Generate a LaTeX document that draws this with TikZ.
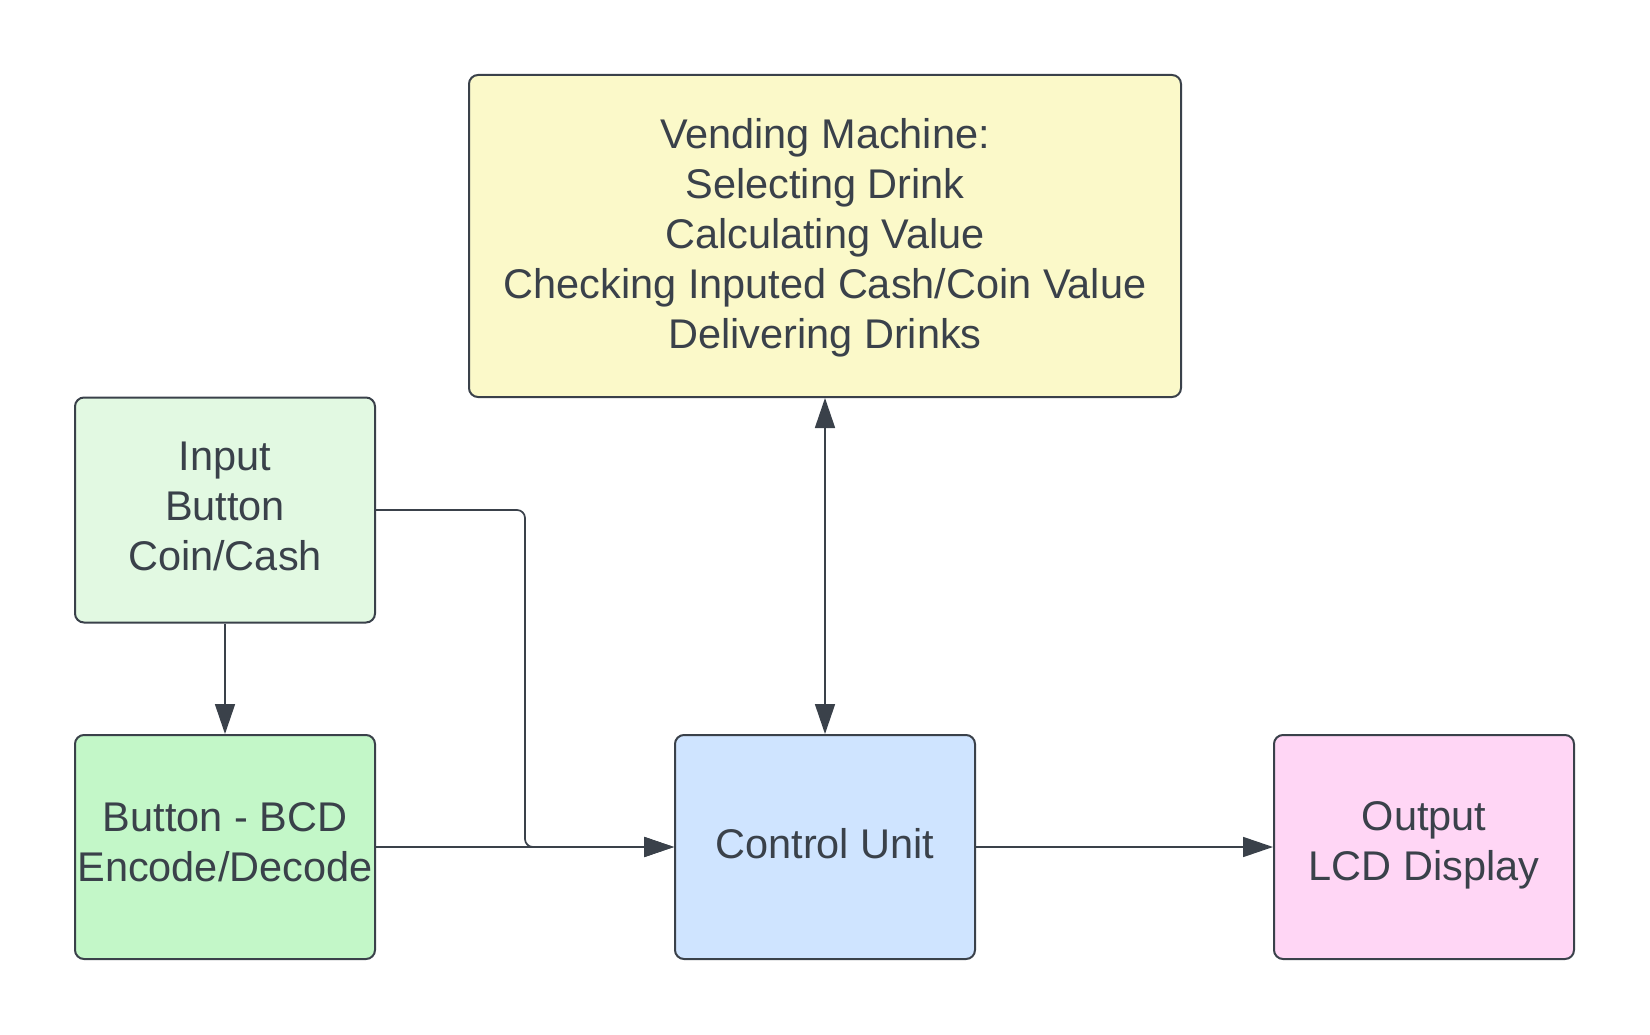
\documentclass[tikz,border=0pt]{standalone}
\usepackage{fontspec}
\setmainfont{Liberation Sans}
\usetikzlibrary{arrows.meta}
\definecolor{ink}{HTML}{3A414A}
\definecolor{vyellow}{HTML}{FBF9C9}
\definecolor{lgreen}{HTML}{E2F9E2}
\definecolor{mgreen}{HTML}{C3F7C8}
\definecolor{lblue}{HTML}{CFE4FF}
\definecolor{lpink}{HTML}{FFD6F5}
\newcommand\uplines[2]{\raisebox{#1}[\height][\depth]{\begin{tabular}{@{}c@{}}#2\end{tabular}}}
\begin{document}
\begin{tikzpicture}[x=1pt,y=-1pt,
  box/.style={draw=ink, line width=2pt, rounded corners=9pt, text=ink,
    font=\fontsize{41.5}{50}\selectfont, inner sep=0pt},
  conn/.style={draw=ink, line width=1.7pt, -{Triangle[length=30pt,width=20pt]}},
  dconn/.style={draw=ink, line width=1.7pt, {Triangle[length=30pt,width=20pt]}-{Triangle[length=30pt,width=20pt]}}]
\path[fill=white] (0,0) rectangle (1650,1035);
\node[box, fill=vyellow, minimum width=712pt, minimum height=322pt] (vm) at (825,236)
  {\uplines{-3pt}{Vending Machine:\\Selecting Drink\\Calculating Value\\Checking Inputed Cash/Coin Value\\Delivering Drinks}};
\node[box, fill=lgreen, minimum width=300pt, minimum height=225pt] (in) at (225,510)
  {\uplines{0pt}{Input\\Button\\Coin/Cash}};
\node[box, fill=mgreen, minimum width=300pt, minimum height=224pt] (bcd) at (225,847)
  {\uplines{1pt}{Button - BCD\\Encode/Decode}};
\node[box, fill=lblue, minimum width=300pt, minimum height=224pt] (cu) at (825,847)
  {\uplines{-1pt}{Control Unit}};
\node[box, fill=lpink, minimum width=300pt, minimum height=224pt] (out) at (1424,847)
  {\uplines{1.5pt}{Output\\LCD Display}};
\coordinate (bend) at (525,510);
\draw[conn] (in.south) -- (bcd.north);
\draw[conn] (bcd.east) -- (cu.west);
\draw[conn, rounded corners=8pt] (in.east) -- (bend) |- (cu.west);
\draw[dconn] (cu.north) -- (vm.south);
\draw[conn] (cu.east) -- (out.west);
\end{tikzpicture}
\end{document}
